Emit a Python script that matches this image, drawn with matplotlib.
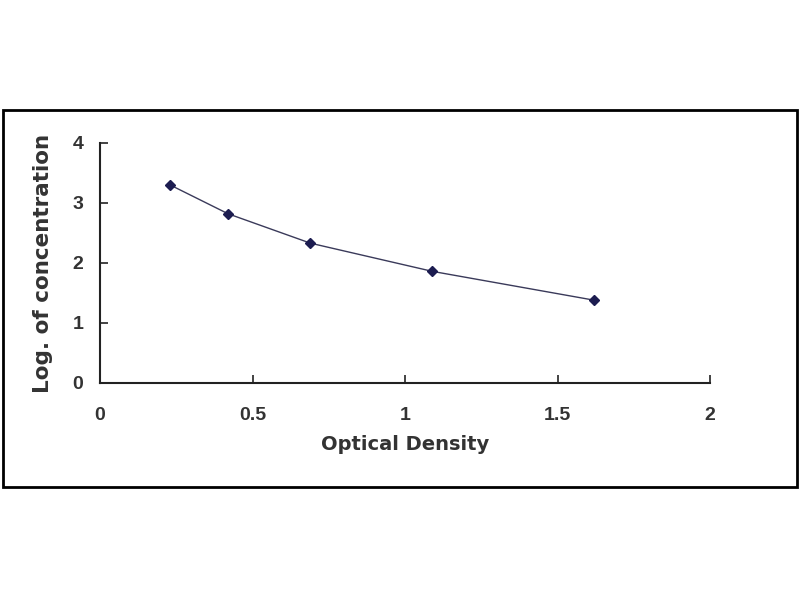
import matplotlib
matplotlib.use("Agg")
import matplotlib.pyplot as plt
from matplotlib.patches import Rectangle

# standard curve data
od = [0.23, 0.42, 0.69, 1.09, 1.62]
log_conc = [3.30, 2.82, 2.33, 1.86, 1.38]

xticks = [0, 0.5, 1, 1.5, 2]
xtick_labels = ["0", "0.5", "1", "1.5", "2"]
yticks = [0, 1, 2, 3, 4]

plt.rcParams['font.family'] = ['Liberation Sans', 'DejaVu Sans']

fig = plt.figure(figsize=(8, 6), dpi=100)
fig.patch.set_facecolor("white")

# outer frame around the chart
frame = Rectangle((0.004, 0.188), 0.992, 0.628, transform=fig.transFigure,
                  fill=False, edgecolor="black", linewidth=2)
fig.patches.append(frame)

ax = fig.add_axes([0.125, 0.3617, 0.7625, 0.4])
ax.plot(od, log_conc, color="#3a3a5a", linewidth=1.0)
ax.plot(od, log_conc, linestyle="none", marker="D", markersize=5,
        color="#1c1c50")

ax.set_xlim(0, 2)
ax.set_ylim(0, 4)
ax.set_xticks(xticks)
ax.set_xticklabels(xtick_labels)
ax.set_yticks(yticks)

for side in ["top", "right"]:
    ax.spines[side].set_visible(False)
for side in ["left", "bottom"]:
    ax.spines[side].set_linewidth(1.5)
    ax.spines[side].set_color("#222222")

ax.tick_params(direction="in", length=6, width=1.2, labelsize=14,
               colors="#222222")
ax.tick_params(axis="x", pad=17)
ax.tick_params(axis="y", pad=12)
for lab in ax.get_xticklabels() + ax.get_yticklabels():
    lab.set_fontweight("bold")
    lab.set_color("#333333")

ax.set_xlabel("Optical Density", fontsize=14, fontweight="bold",
              family="DejaVu Sans", color="#333333", labelpad=8)
ax.set_ylabel("Log. of concentration", fontsize=15.5, fontweight="bold",
              family="DejaVu Sans", color="#333333", labelpad=14)

fig.savefig("out.png", dpi=100)
